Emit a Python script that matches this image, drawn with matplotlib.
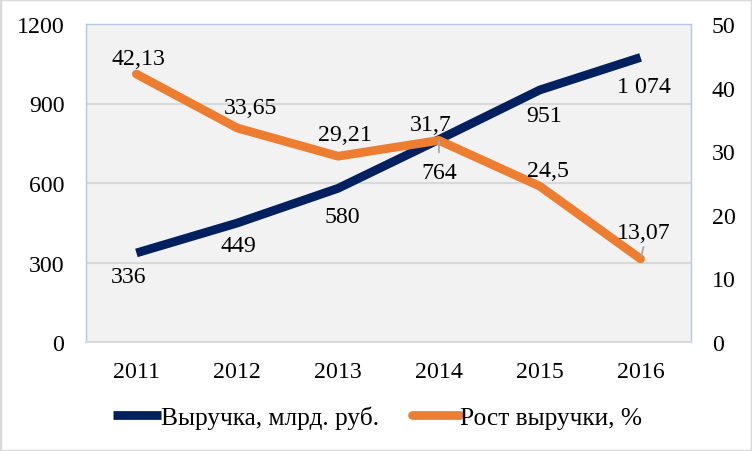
import numpy as np
import matplotlib
matplotlib.use("Agg")
import matplotlib.pyplot as plt
from matplotlib.patches import Rectangle

years = ["2011", "2012", "2013", "2014", "2015", "2016"]
revenue = [336, 449, 580, 764, 951, 1074]
growth = [42.13, 33.65, 29.21, 31.7, 24.5, 13.07]
rev_name = "Выручка, млрд. руб."
growth_name = "Рост выручки, %"

# label placement (pixel offsets from the point, Excel-style manual nudges)
rev_off = [(-8, -24), (1, -22), (4, -28), (0, -33), (4, -26), (3, -29)]
gr_off = [(2, 16), (13, 20), (7, 22), (-8, 16), (8, 16), (3, 26)]

NAVY = "#002060"
ORANGE = "#ED7D31"

plt.rcParams['font.family'] = ['Liberation Serif', 'DejaVu Serif']
FS = 17.2
FS_LEG = 18.3

fig = plt.figure(figsize=(7.52, 4.52), dpi=100)
fig.patches.append(Rectangle((0, 0), 1, 1, transform=fig.transFigure,
                             fill=False, edgecolor="#D9D9D9", lw=2.5))

ax = fig.add_axes([86/752, 109/452, 605/752, 318/452])
ax2 = ax.twinx()

x = np.arange(len(years))
ax.set_facecolor("#F2F2F2")
ax.set_xlim(-0.5, len(years) - 0.5)
ax.set_ylim(0, 1200)
ax.set_yticks([0, 300, 600, 900, 1200])
ax2.set_ylim(0, 50)
ax2.set_yticks([0, 10, 20, 30, 40, 50])
ax.set_xticks(x)
ax.set_xticklabels(years)
ax.grid(axis="y", color="#D9D9D9", lw=1.5)
ax.set_axisbelow(True)

for s in ("left", "right", "top"):
    ax.spines[s].set_color("#B4C7E7")
    ax.spines[s].set_linewidth(1)
ax.spines["bottom"].set_color("#D9D9D9")
ax.spines["bottom"].set_linewidth(1.5)
for s in ax2.spines.values():
    s.set_visible(False)

ax.tick_params(axis="y", length=0, labelsize=FS, pad=15.5)
ax.tick_params(axis="x", length=0, labelsize=FS, pad=14)
ax2.tick_params(axis="y", length=0, labelsize=FS, pad=15)

l1, = ax.plot(x, revenue, color=NAVY, lw=6.3, solid_capstyle="butt",
              solid_joinstyle="round", label=rev_name)
l2, = ax2.plot(x, growth, color=ORANGE, lw=6.3, solid_capstyle="round",
               solid_joinstyle="round", label=growth_name)

for i, v in enumerate(revenue):
    ax.annotate(f"{v:,}".replace(",", " "), (x[i], v), xytext=rev_off[i],
                textcoords="offset pixels", ha="center", va="center", fontsize=FS)
for i, v in enumerate(growth):
    ax2.annotate(str(v).replace(".", ","), (x[i], v), xytext=gr_off[i],
                 textcoords="offset pixels", ha="center", va="center", fontsize=FS)

# leader lines
ax2.annotate("", (x[3], growth[3]), xytext=(0, -12), textcoords="offset pixels",
             arrowprops=dict(arrowstyle="-", color="#A6A6A6", lw=1.3, shrinkA=0, shrinkB=0))
ax2.annotate("", (x[5], growth[5]), xytext=(3, 12), textcoords="offset pixels",
             arrowprops=dict(arrowstyle="-", color="#A6A6A6", lw=1.3, shrinkA=0, shrinkB=2))

fig.legend([l1, l2], [rev_name, growth_name], loc="center",
           bbox_to_anchor=(0.502, 0.075), ncol=2, frameon=False, fontsize=FS_LEG,
           handlelength=1.9, handletextpad=0, columnspacing=1.3)

fig.savefig("out.png", dpi=100)
